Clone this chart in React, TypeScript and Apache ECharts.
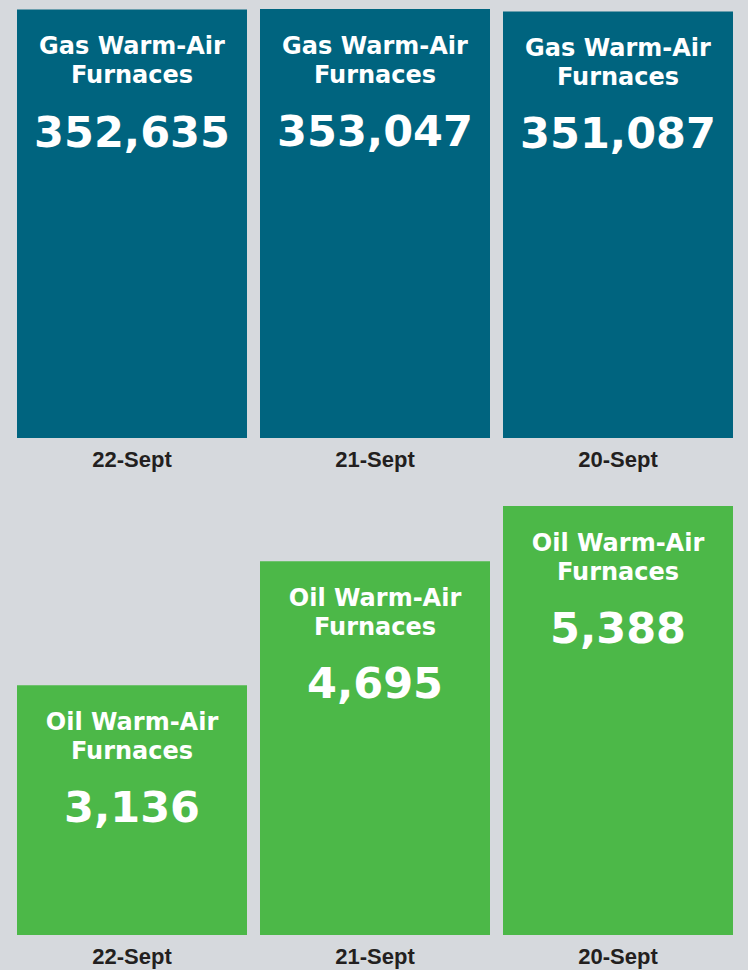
import React, { useEffect, useRef } from "react";
import * as echarts from "echarts";

const categories = ["22-Sept", "21-Sept", "20-Sept"];
const gasValues = [352635, 353047, 351087];
const oilValues = [3136, 4695, 5388];
const gasTitle = ["Gas Warm-Air", "Furnaces"];
const oilTitle = ["Oil Warm-Air", "Furnaces"];

const fmt = (v: number) => v.toLocaleString("en-US");

export default function App() {
  const ref = useRef<HTMLDivElement>(null);
  useEffect(() => {
    if (!ref.current) return;
    const chart = echarts.init(ref.current, null, { renderer: "svg" });
    const mkLabel = (title: string[]) => ({
      show: true,
      position: "insideTop" as const,
      distance: 22,
      formatter: (p: any) =>
        `{t|${title[0]}}\n{t|${title[1]}}\n{n|${fmt(p.value)}}`,
      rich: {
        t: {
          fontFamily: "DejaVu Sans",
          fontWeight: "bold",
          fontSize: 24,
          lineHeight: 29,
          color: "#ffffff",
          align: "center",
        },
        n: {
          fontFamily: "DejaVu Sans",
          fontWeight: "bold",
          fontSize: 43,
          lineHeight: 84,
          color: "#ffffff",
          align: "center",
        },
      },
    });
    const catAxis = (gridIndex: number) => ({
      type: "category" as const,
      gridIndex,
      data: categories,
      axisLine: { show: false },
      axisTick: { show: false },
      axisLabel: {
        margin: 10,
        fontFamily: "Liberation Sans",
        fontWeight: "bold",
        fontSize: 22,
        color: "#231f20",
      },
    });
    const valAxis = (gridIndex: number, max: number) => ({
      type: "value" as const,
      gridIndex,
      min: 0,
      max,
      show: false,
      splitLine: { show: false },
    });
    chart.setOption({
      animation: false,
      backgroundColor: "#d6d9dd",
      grid: [
        { left: 10.5, width: 729, top: 9, height: 429 },
        { left: 10.5, width: 729, top: 506, height: 429 },
      ],
      xAxis: [catAxis(0), catAxis(1)],
      yAxis: [valAxis(0, Math.max(...gasValues)), valAxis(1, Math.max(...oilValues))],
      series: [
        {
          type: "bar",
          xAxisIndex: 0,
          yAxisIndex: 0,
          data: gasValues,
          barWidth: 230,
          itemStyle: { color: "#00647f" },
          label: mkLabel(gasTitle),
        },
        {
          type: "bar",
          xAxisIndex: 1,
          yAxisIndex: 1,
          data: oilValues,
          barWidth: 230,
          itemStyle: { color: "#4cb848" },
          label: mkLabel(oilTitle),
        },
      ],
    });
    return () => chart.dispose();
  }, []);
  return (
    <div
      ref={ref}
      style={{ position: "absolute", left: 0, top: 0, width: 748, height: 970, background: "#d6d9dd" }}
    />
  );
}
